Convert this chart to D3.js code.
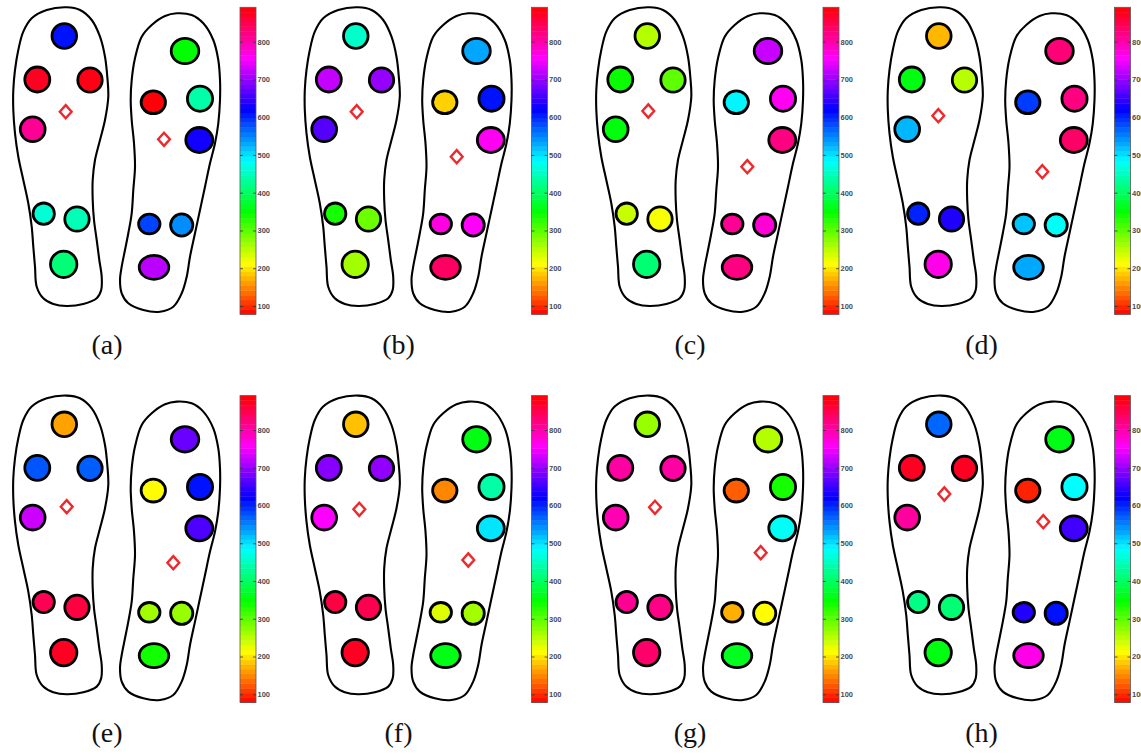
<!DOCTYPE html>
<html>
<head>
<meta charset="utf-8">
<script src="https://cdn.jsdelivr.net/npm/d3@7"></script>
<style>
  body { margin: 0; background: #fff; }
</style>
</head>
<body>
<div id="chart"></div>
<script>
const panelLabels = ['(a)', '(b)', '(c)', '(d)', '(e)', '(f)', '(g)', '(h)'];

// sensor pressure, order: toe, fore medial, fore lateral, mid, pair inner, pair outer, heel
const leftFoot = [
  [611, 873, 880, 812, 462, 446, 412],
  [457, 724, 699, 665, 338, 292, 263],
  [254, 344, 299, 356, 243, 218, 410],
  [175, 358, 252, 523, 602, 636, 767],
  [164, 575, 570, 728, 846, 857, 873],
  [180, 692, 697, 755, 855, 848, 873],
  [268, 805, 805, 796, 812, 819, 834],
  [566, 873, 873, 807, 419, 410, 358]
];
const rightFoot = [
  [349, 886, 439, 629, 584, 545, 719],
  [532, 189, 611, 762, 771, 758, 839],
  [726, 489, 762, 823, 812, 778, 823],
  [828, 588, 823, 837, 516, 480, 530],
  [676, 213, 611, 661, 263, 268, 340],
  [358, 150, 437, 498, 231, 263, 360],
  [254, 128, 338, 480, 171, 213, 365],
  [360, 96, 484, 654, 638, 611, 767]
];

// centre of pressure (insole units)
const copLeftX = [65.7, 65.2, 65.3, 63.8, 66.7, 67.8, 72.0, 69.8];
const copLeftY = [111.7, 111.7, 111.0, 115.7, 118.4, 121.0, 119.0, 105.7];
const copRightX = [164.0, 165.2, 164.3, 167.8, 173.3, 176.8, 177.7, 168.8];
const copRightY = [139.3, 156.7, 166.7, 171.7, 174.4, 171.7, 164.4, 133.4];

const colorTicks = [100, 200, 300, 400, 500, 600, 700, 800];
const colorRange = [78, 891];

// insole geometry (insole units)
const leftOutline = [
  [66.7, 7.3], [80, 10], [91.7, 20], [100, 36.7], [105, 56.7], [107.3, 76.7], [108.3, 96.7],
  [105, 120], [100, 140], [95, 160], [92.7, 180], [92.7, 200], [94, 220], [96.7, 240],
  [99.3, 260], [101.7, 276.7], [101.2, 290], [96.7, 298.3], [83.3, 304], [66.7, 306],
  [53.3, 304], [43.3, 298.3], [36.7, 286.7], [35, 266.7], [33.3, 246.7], [31.7, 226.7],
  [28.3, 203.3], [23.3, 180], [18.3, 156.7], [15, 133.3], [13.3, 110], [13.3, 90],
  [15, 70], [18.3, 50], [23.3, 31.7], [31.7, 18.3], [46.7, 10]
];
const rightOutline = [
  [176.7, 13.3], [191.7, 15], [203.3, 23.3], [213.3, 40], [218.3, 60], [220, 80], [220, 100],
  [218.3, 123.3], [215, 143.3], [210, 163.3], [205, 186.7], [200, 210], [195, 233.3],
  [190, 256.7], [186.7, 276.7], [181.7, 293.3], [173.3, 306.7], [160, 311.7], [143.3, 310],
  [128.3, 303.3], [121.7, 293.3], [120, 280], [121.7, 266.7], [125, 250], [128.3, 233.3],
  [131.7, 213.3], [133.3, 190], [135, 166.7], [134, 143.3], [131.7, 120], [130.7, 100],
  [131.7, 80], [135, 58.3], [141.7, 36.7], [151.7, 25], [165, 16]
];
const leftSensors = [
  { x: 64.3, y: 36, rx: 12.3, ry: 12.3 },
  { x: 37.3, y: 79.5, rx: 12.5, ry: 12.5 },
  { x: 90, y: 80, rx: 12.2, ry: 12.2 },
  { x: 32.7, y: 129.3, rx: 12.4, ry: 12.4 },
  { x: 43.7, y: 213.7, rx: 10.7, ry: 10.7 },
  { x: 77, y: 219, rx: 12.2, ry: 12.2 },
  { x: 63.7, y: 264.3, rx: 13.2, ry: 13.2 }
];
const rightSensors = [
  { x: 185, y: 51, rx: 13.8, ry: 12.7 },
  { x: 153.3, y: 102.3, rx: 12.2, ry: 11.4 },
  { x: 200, y: 98.7, rx: 12.6, ry: 12.6 },
  { x: 199.3, y: 140, rx: 13.5, ry: 12.5 },
  { x: 149.3, y: 224, rx: 10.7, ry: 9.8 },
  { x: 181.7, y: 225, rx: 11.1, ry: 11.1 },
  { x: 154, y: 267.3, rx: 14.8, ry: 12 }
];

const W = 1141, H = 754;
const colStep = 291.5, rowStep = 388.3;

const svg = d3.select('#chart').append('svg')
  .attr('width', W)
  .attr('height', H);

const color = d3.scaleSequential(t => d3.hsl(t * 360, 1, 0.5).formatHex())
  .domain(colorRange);

const nBands = 64;
const bandStep = (colorRange[1] - colorRange[0]) / nBands;
const bands = d3.range(nBands).map(k => colorRange[0] + k * bandStep);

panelLabels.forEach((label, i) => {
  const col = i % 4;
  const row = Math.floor(i / 4);
  const x = d3.scaleLinear().domain([0, 290]).range([col * colStep, col * colStep + 290]);
  const y = d3.scaleLinear().domain([0, 388]).range([row * rowStep, row * rowStep + 388]);
  const g = svg.append('g');

  const outline = d3.line()
    .x(d => x(d[0]))
    .y(d => y(d[1]))
    .curve(d3.curveCatmullRomClosed.alpha(0.5));

  [leftOutline, rightOutline].forEach(pts => {
    g.append('path')
      .attr('d', outline(pts))
      .attr('fill', '#fff')
      .attr('stroke', '#000')
      .attr('stroke-width', 2.1);
  });

  const feet = [
    { values: leftFoot[i], layout: leftSensors },
    { values: rightFoot[i], layout: rightSensors }
  ];
  feet.forEach(foot => {
    g.selectAll(null)
      .data(foot.values)
      .join('ellipse')
      .attr('cx', (d, j) => x(foot.layout[j].x))
      .attr('cy', (d, j) => y(foot.layout[j].y))
      .attr('rx', (d, j) => foot.layout[j].rx)
      .attr('ry', (d, j) => foot.layout[j].ry)
      .attr('fill', d => color(d))
      .attr('stroke', '#000')
      .attr('stroke-width', 2.8);
  });

  // centre of pressure markers
  const cop = [[copLeftX[i], copLeftY[i]], [copRightX[i], copRightY[i]]];
  g.selectAll(null)
    .data(cop)
    .join('path')
    .attr('d', d => {
      const cx = x(d[0]), cy = y(d[1]);
      return `M${cx},${cy - 6.6}L${cx + 5.9},${cy}L${cx},${cy + 6.6}L${cx - 5.9},${cy}Z`;
    })
    .attr('fill', '#fff')
    .attr('stroke', '#ec2a2e')
    .attr('stroke-width', 2.4);

  // colorbar
  const cb = d3.scaleLinear().domain(colorRange).range([y(314.3), y(7.3)]);
  g.selectAll(null)
    .data(bands)
    .join('rect')
    .attr('x', x(240))
    .attr('width', x(256) - x(240))
    .attr('y', d => cb(d + bandStep))
    .attr('height', d => cb(d) - cb(d + bandStep) + 0.4)
    .attr('fill', d => color(d + bandStep / 2));

  g.append('rect')
    .attr('x', x(240))
    .attr('y', cb(colorRange[1]))
    .attr('width', x(256) - x(240))
    .attr('height', cb(colorRange[0]) - cb(colorRange[1]))
    .attr('fill', 'none')
    .attr('stroke', '#5a5a5a')
    .attr('stroke-width', 0.8);

  const axR = g.append('g')
    .attr('transform', `translate(${x(256)},0)`)
    .call(d3.axisRight(cb).tickValues(colorTicks).tickSize(-3).tickPadding(1.5));
  const axL = g.append('g')
    .attr('transform', `translate(${x(240)},0)`)
    .call(d3.axisLeft(cb).tickValues(colorTicks).tickSize(-3).tickFormat(''));
  [axR, axL].forEach(ax => {
    ax.select('.domain').remove();
    ax.selectAll('.tick line').attr('stroke', '#333').attr('stroke-width', 0.8);
  });
  axR.selectAll('.tick text')
    .attr('fill', '#4a4a52')
    .style('font-family', 'Liberation Sans, Arial, sans-serif')
    .style('font-size', '7.5px')
    .style('font-weight', 'bold');

  g.append('text')
    .attr('x', x(107))
    .attr('y', y(354))
    .attr('text-anchor', 'middle')
    .style('font-family', 'Liberation Serif, Times New Roman, serif')
    .style('font-size', '28px')
    .attr('fill', '#111')
    .text(label);
});
</script>
</body>
</html>
